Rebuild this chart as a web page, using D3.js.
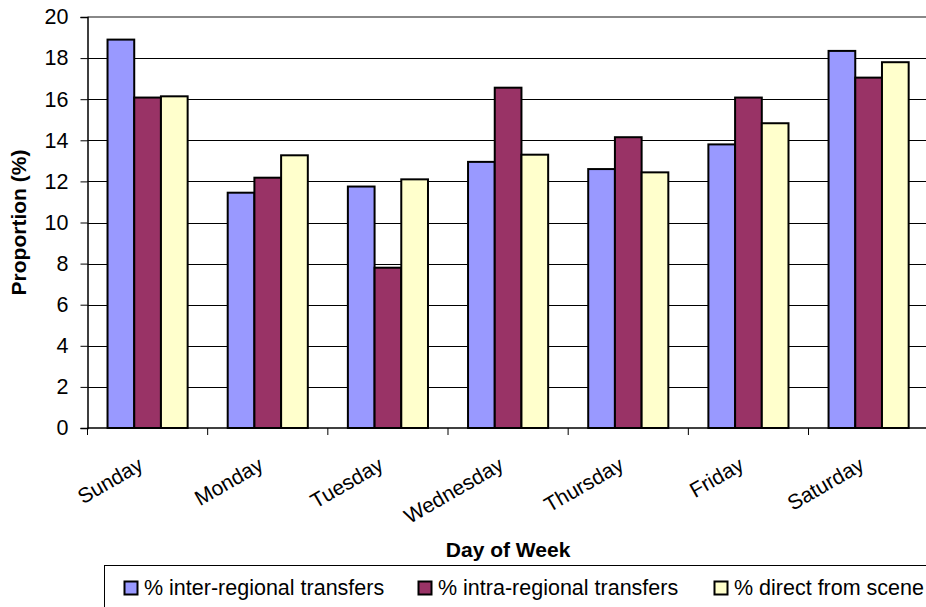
<!DOCTYPE html>
<html><head><meta charset="utf-8">
<script src="https://cdn.jsdelivr.net/npm/d3@7"></script>
<style>body{margin:0;background:#fff;} svg{display:block;font-family:"Liberation Sans",Arial,sans-serif;}</style>
</head><body>
<svg id="c" width="926" height="607"></svg>
<script>
const days = ["Sunday","Monday","Tuesday","Wednesday","Thursday","Friday","Saturday"];
const seriesNames = ["% inter-regional transfers","% intra-regional transfers","% direct from scene"];
const interRegional = [18.9, 11.45, 11.75, 12.95, 12.6, 13.8, 18.35];
const intraRegional = [16.08, 12.18, 7.8, 16.56, 14.15, 16.08, 17.05];
const directScene = [16.14, 13.27, 12.1, 13.3, 12.44, 14.83, 17.8];
const colors = ["#9999FF","#993366","#FFFFCC"];
const yTicks = [0,2,4,6,8,10,12,14,16,18,20];

(function(){
const allSeries = [interRegional, intraRegional, directScene];
const svg = d3.select("#c");
const pL = 87.5, pR = 928.7, pT = 17, pB = 428;

const x0 = d3.scaleBand().domain(days).range([pL, pR]).padding(0);
const x1 = d3.scaleBand().domain(d3.range(3)).range([x0.bandwidth()/6, x0.bandwidth()*5/6]).padding(0);
const y = d3.scaleLinear().domain([0,20]).range([pB, pT]);

svg.append("g").selectAll("line").data(yTicks.filter(d=>d>0 && d<20)).join("line")
  .attr("x1", pL).attr("x2", 926).attr("y1", d=>Math.round(y(d))+0.5).attr("y2", d=>Math.round(y(d))+0.5)
  .attr("stroke","#000").attr("stroke-width",1);
svg.append("line").attr("x1",pL).attr("x2",926).attr("y1",y(20)).attr("y2",y(20))
  .attr("stroke","#888").attr("stroke-width",2);

const groups = svg.append("g").selectAll("g").data(days).join("g")
  .attr("transform", d=>`translate(${x0(d)},0)`);
groups.selectAll("rect").data((d,i)=>allSeries.map((s,k)=>({k, v:s[i]}))).join("rect")
  .attr("x", d=>x1(d.k)).attr("width", x1.bandwidth())
  .attr("y", d=>y(d.v)).attr("height", d=>y(0)-y(d.v))
  .attr("fill", d=>colors[d.k]).attr("stroke","#000").attr("stroke-width",2);

const yAxis = svg.append("g").attr("transform",`translate(${pL},0)`)
  .call(d3.axisLeft(y).tickValues(yTicks).tickSize(7).tickPadding(12).tickFormat(d3.format("d")));
yAxis.select(".domain").attr("stroke","#000").attr("stroke-width",1.5);
yAxis.selectAll(".tick line").attr("stroke","#000");
yAxis.selectAll("text").attr("font-size",21.5).attr("fill","#000").attr("font-family","Liberation Sans, Arial, sans-serif");

const xAxis = svg.append("g").attr("transform",`translate(0,${pB})`);
xAxis.append("line").attr("x1",pL).attr("x2",926).attr("stroke","#000").attr("stroke-width",1.5);
xAxis.selectAll("line.tk").data(days.concat(["_end"])).join("line").attr("class","tk")
  .attr("x1",(d,i)=>pL + i*x0.step()).attr("x2",(d,i)=>pL + i*x0.step())
  .attr("y1",0).attr("y2",7).attr("stroke","#000");
xAxis.selectAll("text").data(days).join("text")
  .attr("transform", d=>`translate(${x0(d)+x0.bandwidth()/2-3},${41}) rotate(-30)`)
  .attr("text-anchor","end").attr("font-size",21).attr("fill","#000").text(d=>d);

svg.append("text").attr("x",(pL+pR)/2).attr("y",556.5).attr("text-anchor","middle")
  .attr("font-size",21).attr("font-weight","bold").text("Day of Week");
svg.append("text").attr("transform",`translate(26,${(pT+pB)/2}) rotate(-90)`)
  .attr("text-anchor","middle").attr("font-size",21).attr("font-weight","bold").text("Proportion (%)");

const lg = svg.append("g");
lg.append("rect").attr("x",104.5).attr("y",565.5).attr("width",840).attr("height",60)
  .attr("fill","#fff").attr("stroke","#000").attr("stroke-width",1);
const legX = [124, 418, 714];
const items = lg.selectAll("g").data(seriesNames).join("g").attr("transform",(d,i)=>`translate(${legX[i]},581)`);
items.append("rect").attr("x",0.5).attr("y",0.5).attr("width",13).attr("height",13)
  .attr("fill",(d,i)=>colors[i]).attr("stroke","#000").attr("stroke-width",2);
items.append("text").attr("x",20).attr("y",13.5).attr("font-size",21.5).attr("fill","#000").text(d=>d);
})();
</script>
</body></html>
